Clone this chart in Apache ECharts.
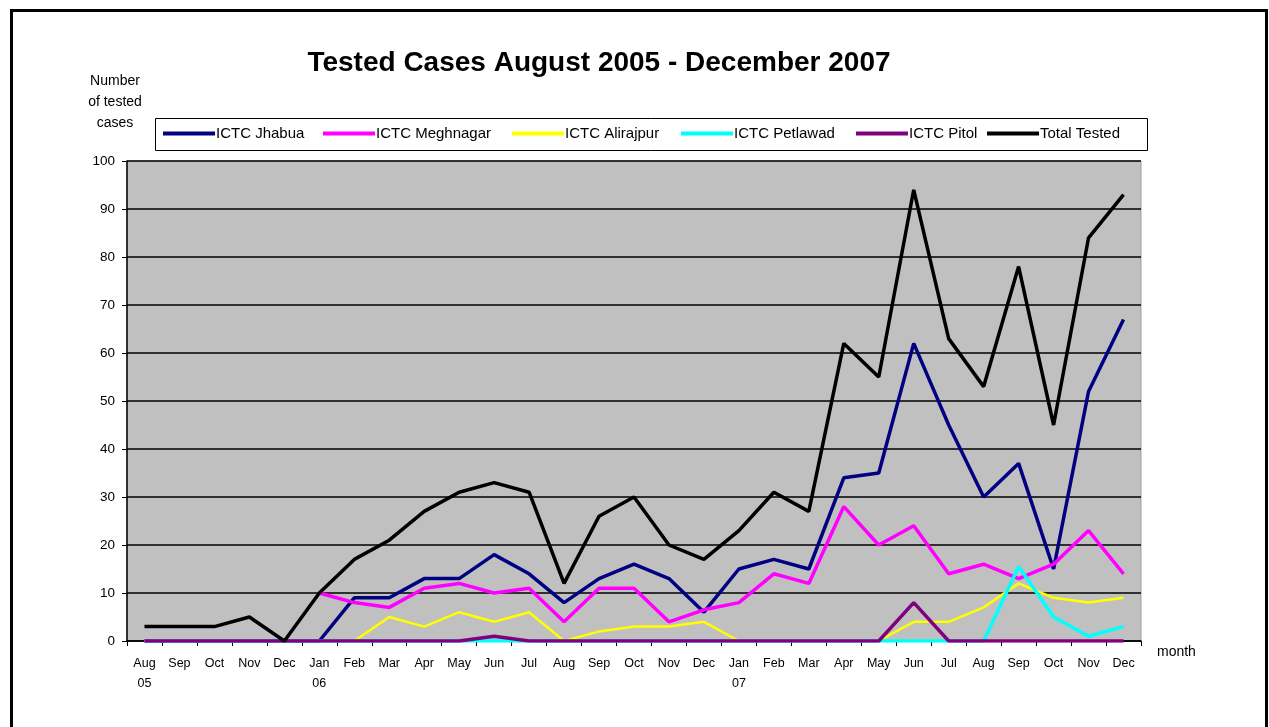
<!DOCTYPE html>
<html>
<head>
<meta charset="utf-8">
<script src="https://cdn.jsdelivr.net/npm/echarts@6/dist/echarts.min.js"></script>
<style>
html,body{margin:0;padding:0;background:#fff;}
#chart{width:1269px;height:727px;}
</style>
</head>
<body>
<div id="chart"></div>
<script>
const categories = ["Aug\n05","Sep","Oct","Nov","Dec","Jan\n06","Feb","Mar","Apr","May","Jun","Jul","Aug","Sep","Oct","Nov","Dec","Jan\n07","Feb","Mar","Apr","May","Jun","Jul","Aug","Sep","Oct","Nov","Dec"];
const yTicks = [0,10,20,30,40,50,60,70,80,90,100];
const seriesNames = ['ICTC Jhabua','ICTC Meghnagar','ICTC Alirajpur','ICTC Petlawad','ICTC Pitol','Total Tested'];
const jhabua     = [0,0,0,0,0,0,9,9,13,13,18,14,8,13,16,13,6,15,17,15,34,35,62,45,30,37,15,52,67];
const meghnagar  = [null,null,null,null,null,10,8,7,11,12,10,11,4,11,11,4,6.5,8,14,12,28,20,24,14,16,13,16,23,14];
const alirajpur  = [0,0,0,0,0,0,0,5,3,6,4,6,0,2,3,3,4,0,0,0,0,0,4,4,7,12,9,8,9];
const petlawad   = [0,0,0,0,0,0,0,0,0,0,0,0,0,0,0,0,0,0,0,0,0,0,0,0,0,15.5,5,1,3];
const pitol      = [0,0,0,0,0,0,0,0,0,0,1,0,0,0,0,0,0,0,0,0,0,0,8,0,0,0,0,0,0];
const total      = [3,3,3,5,0,10,17,21,27,31,33,31,12,26,30,20,17,23,31,27,62,55,94,63,53,78,45,84,93];

const colors = ['#000080','#FF00FF','#FFFF00','#00FFFF','#800080','#000000'];
const legendLefts = [163,323,512,681,856,987];

const font = "Arial, 'Liberation Sans', sans-serif";
const chart = echarts.init(document.getElementById('chart'), null, {renderer:'canvas'});
function s(i, data, width){
  return {name:seriesNames[i], type:'line', data, symbol:'none', connectNulls:false,
    lineStyle:{color:colors[i], width}, itemStyle:{color:colors[i]}, emphasis:{disabled:true}};
}
const legends = seriesNames.map((n,i)=>({
  left:legendLefts[i], top:126, padding:0, itemGap:0,
  itemWidth:52, itemHeight:4, icon:'rect',
  textStyle:{fontFamily:font, fontSize:15, color:'#000', padding:[0,0,0,-4]},
  data:[n]
}));
chart.setOption({
  animation:false,
  backgroundColor:'#ffffff',
  title:{text:'Tested Cases August 2005 - December 2007', left:594, textAlign:'center', top:44,
    textStyle:{fontFamily:font, fontSize:28, fontWeight:'bold', color:'#000'}},
  legend:legends,
  grid:{left:127, right:128, top:161, bottom:86, show:true, backgroundColor:'#C0C0C0', borderColor:'#a0a0a0', borderWidth:1},
  xAxis:{type:'category', data:categories, boundaryGap:true,
    name:'month', nameLocation:'end', nameGap:16,
    nameTextStyle:{fontFamily:font, fontSize:14, color:'#000', verticalAlign:'top', padding:[4,0,0,0]},
    axisLine:{lineStyle:{color:'#000', width:1.5}},
    axisTick:{show:true, alignWithLabel:false, length:5, lineStyle:{color:'#000'}},
    axisLabel:{fontFamily:font, fontSize:12.5, color:'#000', margin:13, lineHeight:20, interval:0, align:'center', verticalAlign:'top'},
    splitLine:{show:false}},
  yAxis:{type:'value', min:yTicks[0], max:yTicks[yTicks.length-1], interval:10,
    name:'Number\nof tested\ncases', nameLocation:'end', nameGap:27,
    nameTextStyle:{fontFamily:font, fontSize:14, color:'#000', align:'center', lineHeight:21, padding:[0,24,0,0]},
    axisLine:{show:true, lineStyle:{color:'#000', width:1.5}},
    axisTick:{show:true, length:5, lineStyle:{color:'#000'}},
    axisLabel:{fontFamily:font, fontSize:13.5, color:'#000', margin:12},
    splitLine:{show:true, lineStyle:{color:'#000', width:1.5}}},
  series:[
    s(0, jhabua, 3.5),
    s(1, meghnagar, 3.5),
    s(2, alirajpur, 2.5),
    s(3, petlawad, 3.5),
    s(4, pitol, 3.5),
    s(5, total, 3.5)
  ],
  graphic:[
    {type:'rect', left:9, top:8, shape:{width:1255, height:760},
      style:{fill:'none', stroke:'#000', lineWidth:3}, silent:true, z:-10},
    {type:'rect', left:155, top:118, shape:{width:992, height:32},
      style:{fill:'#fff', stroke:'#000', lineWidth:1}, silent:true, z:-5}
  ]
});
</script>
</body>
</html>
